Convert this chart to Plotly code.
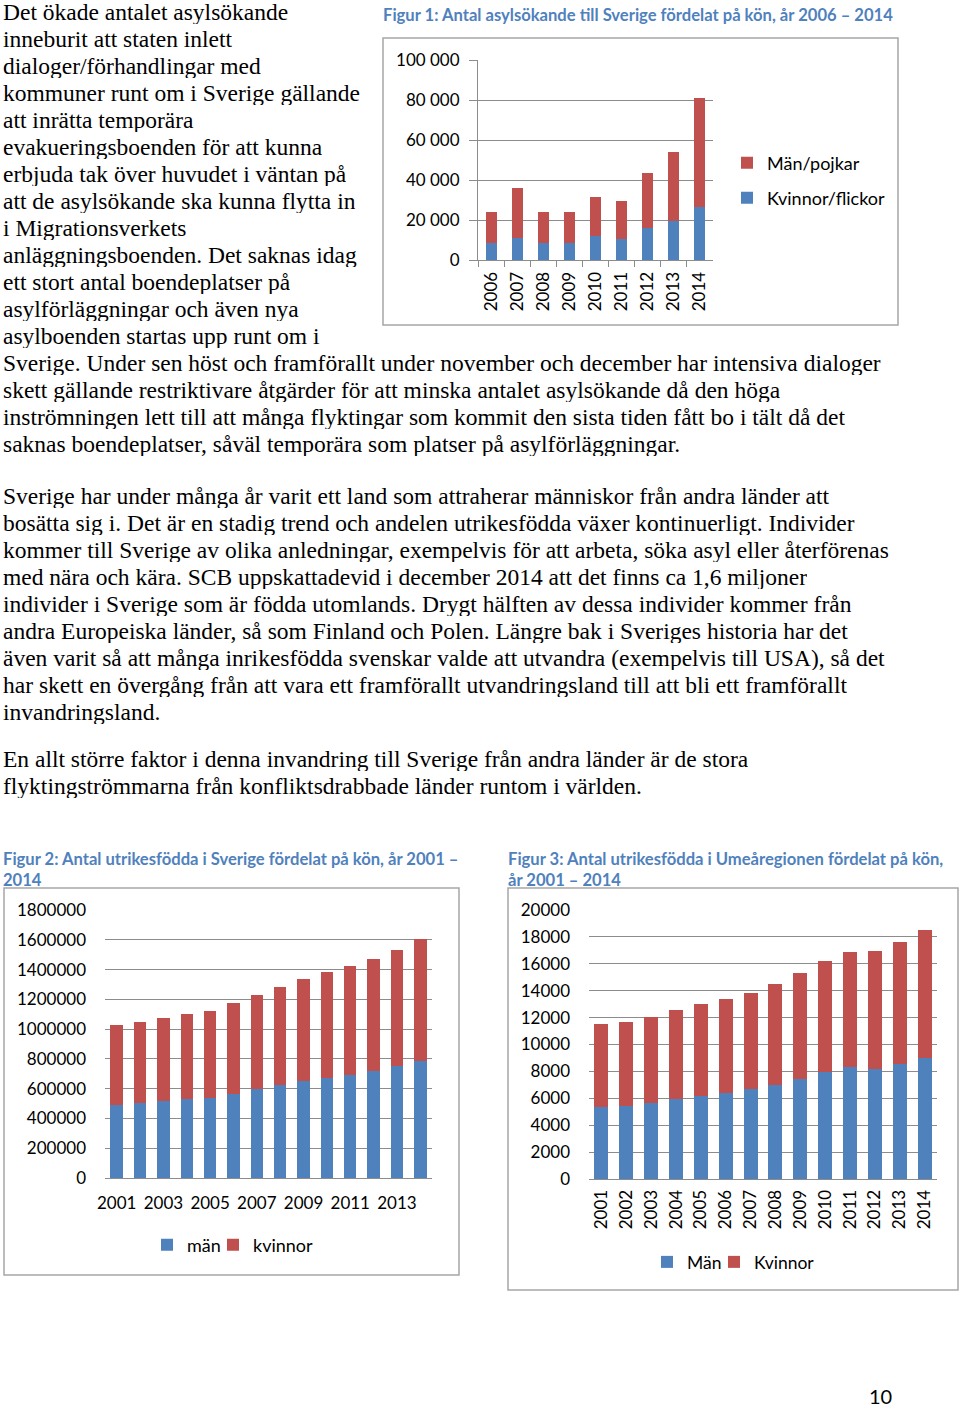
import plotly.graph_objects as go

W, H = 960, 1407


def px(x):
    return x / W


def py(y):
    return 1 - y / H


BLUE = "#4F81BD"
RED = "#C0504D"
GRID = "#8C8C8C"
BORDER = "#A6A6A6"
TITLE = "#4F81BD"

# ---------------- data ----------------
# Figure 1: asylum seekers to Sweden by sex, 2006-2014
fig1_years = ["2006", "2007", "2008", "2009", "2010", "2011", "2012", "2013", "2014"]
fig1_kvinnor = [8300, 10800, 8300, 8300, 12000, 10300, 16200, 19500, 26300]
fig1_man = [15900, 25200, 15900, 15700, 19700, 19200, 27500, 34700, 54900]

# Figure 2: foreign born in Sweden by sex, 2001-2014
fig2_years = ["2001", "2002", "2003", "2004", "2005", "2006", "2007",
              "2008", "2009", "2010", "2011", "2012", "2013", "2014"]
fig2_man = [492000, 503000, 519000, 528000, 539000, 566000, 595000,
            622000, 651000, 675000, 693000, 720000, 749000, 789000]
fig2_kvinnor = [534000, 548000, 559000, 572000, 586000, 608000, 633000,
                659000, 686000, 709000, 734000, 751000, 784000, 814000]
fig2_ticklabels = ["2001", "2003", "2005", "2007", "2009", "2011", "2013"]

# Figure 3: foreign born in the Umeå region by sex, 2001-2014
fig3_years = ["2001", "2002", "2003", "2004", "2005", "2006", "2007",
              "2008", "2009", "2010", "2011", "2012", "2013", "2014"]
fig3_man = [5380, 5430, 5630, 5970, 6200, 6420, 6670,
            6960, 7460, 7930, 8350, 8200, 8530, 8970]
fig3_kvinnor = [6120, 6240, 6440, 6600, 6800, 6960, 7160,
                7560, 7880, 8280, 8500, 8780, 9090, 9520]

# ---------------- text ----------------
para1 = [
    "Det ökade antalet asylsökande",
    "inneburit att staten inlett",
    "dialoger/förhandlingar med",
    "kommuner runt om i Sverige gällande",
    "att inrätta temporära",
    "evakueringsboenden för att kunna",
    "erbjuda tak över huvudet i väntan på",
    "att de asylsökande ska kunna flytta in",
    "i Migrationsverkets",
    "anläggningsboenden. Det saknas idag",
    "ett stort antal boendeplatser på",
    "asylförläggningar och även nya",
    "asylboenden startas upp runt om i",
    "Sverige. Under sen höst och framförallt under november och december har intensiva dialoger",
    "skett gällande restriktivare åtgärder för att minska antalet asylsökande då den höga",
    "inströmningen lett till att många flyktingar som kommit den sista tiden fått bo i tält då det",
    "saknas boendeplatser, såväl temporära som platser på asylförläggningar.",
]
para2 = [
    "Sverige har under många år varit ett land som attraherar människor från andra länder att",
    "bosätta sig i. Det är en stadig trend och andelen utrikesfödda växer kontinuerligt. Individer",
    "kommer till Sverige av olika anledningar, exempelvis för att arbeta, söka asyl eller återförenas",
    "med nära och kära. SCB uppskattadevid i december 2014 att det finns ca 1,6 miljoner",
    "individer i Sverige som är födda utomlands. Drygt hälften av dessa individer kommer från",
    "andra Europeiska länder, så som Finland och Polen. Längre bak i Sveriges historia har det",
    "även varit så att många inrikesfödda svenskar valde att utvandra (exempelvis till USA), så det",
    "har skett en övergång från att vara ett framförallt utvandringsland till att bli ett framförallt",
    "invandringsland.",
]
para3 = [
    "En allt större faktor i denna invandring till Sverige från andra länder är de stora",
    "flyktingströmmarna från konfliktsdrabbade länder runtom i världen.",
]

SERIF = "Liberation Serif"
SANS = "Lato"

fig = go.Figure()

# Figure 1 traces
fig.add_trace(go.Bar(x=fig1_years, y=fig1_kvinnor, name="Kvinnor/flickor",
                     marker=dict(color=BLUE, line=dict(width=0)), width=0.42,
                     xaxis="x", yaxis="y", legend="legend2"))
fig.add_trace(go.Bar(x=fig1_years, y=fig1_man, name="Män/pojkar",
                     marker=dict(color=RED, line=dict(width=0)), width=0.42,
                     xaxis="x", yaxis="y", legend="legend"))
# Figure 2 traces
fig.add_trace(go.Bar(x=fig2_years, y=fig2_man, name="män",
                     marker=dict(color=BLUE, line=dict(width=0)), width=0.53,
                     xaxis="x2", yaxis="y2", legend="legend3", legendwidth=21))
fig.add_trace(go.Bar(x=fig2_years, y=fig2_kvinnor, name="kvinnor",
                     marker=dict(color=RED, line=dict(width=0)), width=0.53,
                     xaxis="x2", yaxis="y2", legend="legend3"))
# Figure 3 traces
fig.add_trace(go.Bar(x=fig3_years, y=fig3_man, name="Män",
                     marker=dict(color=BLUE, line=dict(width=0)), width=0.56,
                     xaxis="x3", yaxis="y3", legend="legend4", legendwidth=22))
fig.add_trace(go.Bar(x=fig3_years, y=fig3_kvinnor, name="Kvinnor",
                     marker=dict(color=RED, line=dict(width=0)), width=0.56,
                     xaxis="x3", yaxis="y3", legend="legend4"))

tickfont17 = dict(family=SANS, size=17, color="#000000")

layout = dict(
    width=W, height=H,
    margin=dict(l=0, r=0, t=0, b=0, pad=0, autoexpand=False),
    paper_bgcolor="white", plot_bgcolor="rgba(0,0,0,0)",
    barmode="stack",
    separators=", ",
    showlegend=True,
    font=dict(family=SANS, color="#000000"),
    # Figure 1
    xaxis=dict(domain=[px(478), px(713)], anchor="y", type="category",
               tickangle=-90, tickfont=tickfont17, ticks="outside",
               tickson="boundaries", ticklen=6, tickcolor=GRID,
               showline=True, linecolor=GRID, linewidth=1, showgrid=False,
               ticklabelstandoff=4, automargin=False),
    yaxis=dict(domain=[py(260), py(60)], anchor="x", range=[0, 100000],
               dtick=20000, tickformat=",", tickfont=tickfont17,
               showline=True, linecolor=GRID, ticks="outside", ticklen=8,
               tickcolor=GRID, gridcolor=GRID, gridwidth=1, zeroline=False,
               ticklabelstandoff=6, automargin=False),
    # Figure 2
    xaxis2=dict(domain=[px(105), px(432)], anchor="y2", type="category",
                tickmode="array", tickvals=fig2_ticklabels, ticktext=fig2_ticklabels,
                tickangle=0, tickfont=tickfont17, ticks="", showgrid=False,
                showline=True, linecolor=GRID, ticklabelstandoff=10, automargin=False),
    yaxis2=dict(domain=[py(1178), py(910)], anchor="x2", range=[0, 1800000],
                dtick=200000, tickformat="d", tickfont=tickfont17, ticks="",
                showline=False, gridcolor=GRID, gridwidth=1, zeroline=False,
                ticklabelstandoff=18, automargin=False),
    # Figure 3
    xaxis3=dict(domain=[px(589), px(937)], anchor="y3", type="category",
                tickangle=-90, tickfont=tickfont17, ticks="", showgrid=False,
                showline=True, linecolor=GRID, ticklabelstandoff=3, automargin=False),
    yaxis3=dict(domain=[py(1179), py(910)], anchor="x3", range=[0, 20000],
                dtick=2000, tickformat="d", tickfont=tickfont17, ticks="",
                showline=False, gridcolor=GRID, gridwidth=1, zeroline=False,
                ticklabelstandoff=18, automargin=False),
    legend=dict(x=px(727), y=py(163), xanchor="left", yanchor="middle",
                bgcolor="rgba(0,0,0,0)", font=dict(family=SANS, size=18),
                itemwidth=30),
    legend2=dict(x=px(727), y=py(198), xanchor="left", yanchor="middle",
                 bgcolor="rgba(0,0,0,0)", font=dict(family=SANS, size=18),
                 itemwidth=30),
    legend3=dict(x=px(147), y=py(1245), xanchor="left", yanchor="middle",
                 orientation="h", traceorder="normal",
                 bgcolor="rgba(0,0,0,0)", font=dict(family=SANS, size=18),
                 itemwidth=30),
    legend4=dict(x=px(647), y=py(1262), xanchor="left", yanchor="middle",
                 orientation="h", traceorder="normal",
                 bgcolor="rgba(0,0,0,0)", font=dict(family=SANS, size=17.5),
                 itemwidth=30),
)
fig.update_layout(**layout)

# chart borders
for (x0, y0, x1, y1) in [(383, 38, 898, 325), (4, 888, 459, 1275), (508, 888, 958, 1290)]:
    fig.add_shape(type="rect", xref="paper", yref="paper",
                  x0=px(x0), x1=px(x1), y0=py(y0), y1=py(y1),
                  line=dict(color=BORDER, width=1.5), fillcolor="rgba(0,0,0,0)",
                  layer="below")

annotations = []


def text_line(t, x, y, size=23.5, family=SERIF, color="#000000", bold=False, h=None):
    if bold:
        t = "<b>" + t + "</b>"
    ann = dict(text=t, x=px(x), y=py(y), xref="paper", yref="paper",
               xanchor="left", yanchor="middle", showarrow=False, borderpad=0,
               font=dict(family=family, size=size, color=color))
    if h is not None:
        ann["height"] = h
        ann["valign"] = "middle"
    annotations.append(ann)


for i, line in enumerate(para1):
    text_line(line, 2, 12 + 27 * i, h=24)
for i, line in enumerate(para2):
    text_line(line, 2, 496 + 27 * i, h=24)
for i, line in enumerate(para3):
    text_line(line, 2, 759 + 27 * i, h=24)

# chart titles
text_line("Figur 1: Antal asylsökande till Sverige fördelat på kön, år 2006 – 2014",
          382, 15, size=16.6, family=SANS, color=TITLE, bold=True)
text_line("Figur 2: Antal utrikesfödda i Sverige fördelat på kön, år 2001 –",
          2, 859, size=16.6, family=SANS, color=TITLE, bold=True)
text_line("2014", 2, 880, size=16.6, family=SANS, color=TITLE, bold=True)
text_line("Figur 3: Antal utrikesfödda i Umeåregionen fördelat på kön,",
          507, 859, size=16.6, family=SANS, color=TITLE, bold=True)
text_line("år 2001 – 2014", 507, 880, size=16.6, family=SANS, color=TITLE, bold=True)

# page number
text_line("10", 868, 1396, size=20, family=SANS, h=18)

fig.update_layout(annotations=annotations)

fig.write_html("out.html", config={"displayModeBar": False},
               post_script="document.body.style.margin='0px';")
